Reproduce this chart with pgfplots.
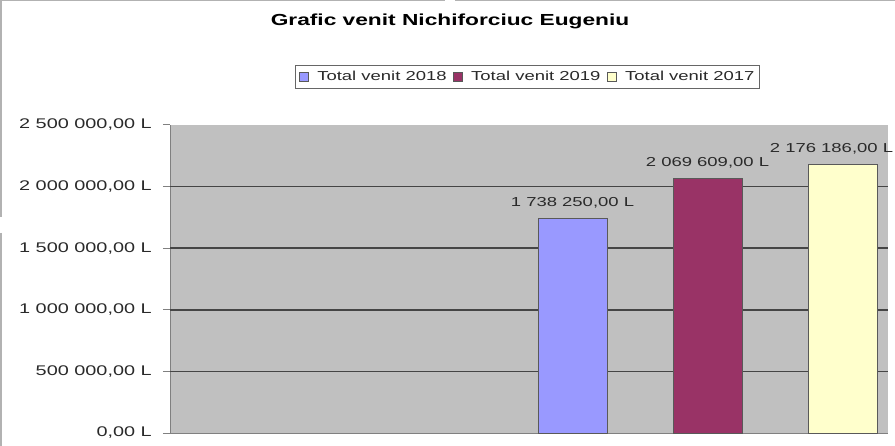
\documentclass[border=0pt]{standalone}
\usepackage{fontspec}
\setmainfont{Liberation Sans}[FakeStretch=1.42]
\usepackage{pgfplots}
\pgfplotsset{compat=1.18}
\definecolor{cblue}{HTML}{9999FF}
\definecolor{cmaroon}{HTML}{993366}
\definecolor{cyellow}{HTML}{FFFFCC}
\definecolor{plotbg}{HTML}{C0C0C0}
\definecolor{gridc}{HTML}{454545}
\definecolor{tickc}{HTML}{2A2A2A}
\begin{document}
\begin{tikzpicture}
\path[use as bounding box] (0,0) rectangle (895bp,446bp);
\fill[white] (0,0) rectangle (895bp,446bp);
\draw[gray!60, line width=1.5bp] (1bp,446bp) -- (1bp,229bp);
\draw[gray!60, line width=1.5bp] (1bp,213bp) -- (1bp,0bp);
\draw[gray!60, line width=1.5bp] (0bp,445.5bp) -- (445bp,445.5bp);
\draw[gray!60, line width=1.5bp] (455bp,445.5bp) -- (895bp,445.5bp);
\begin{axis}[
  at={(170bp,13bp)}, anchor=south west,
  scale only axis,
  width=718bp, height=308bp,
  xmin=170, xmax=888,
  ymin=0, ymax=2500000,
  scaled y ticks=false,
  clip=false,
  axis background/.style={fill=plotbg},
  axis x line*=bottom, axis y line*=left,
  axis line style={draw=gray, line width=1bp},
  xtick=\empty,
  ytick={0,500000,1000000,1500000,2000000,2500000},
  yticklabels={{0,00 L},{500 000,00 L},{1 000 000,00 L},{1 500 000,00 L},{2 000 000,00 L},{2 500 000,00 L}},
  yticklabel style={font=\fontsize{14bp}{16bp}\selectfont, text=tickc, inner sep=0pt, xshift=-11bp},
  major tick length=7bp,
  tick align=outside,
  tick style={draw=gray, line width=1bp},
  extra y ticks={500000,1000000,1500000,2000000},
  extra y tick labels={},
  extra y tick style={grid=major, major grid style={draw=gridc, line width=1.5bp}, major tick length=0pt},
  title={\bfseries Grafic venit Nichiforciuc Eugeniu},
  title style={at={(0.39,1.318)}, anchor=center, font=\fontsize{16bp}{18bp}\selectfont, inner sep=0pt},
  legend columns=3,
  legend style={at={(0.498,1.157)}, anchor=center, draw=gray!80!black, line width=1bp,
    font=\fontsize{13bp}{15bp}\selectfont, text=tickc,
    nodes={inner xsep=2bp},
    /tikz/every odd column/.append style={column sep=7bp},
    /tikz/every even column/.append style={column sep=4bp},
    inner xsep=3bp, inner ysep=4bp},
  legend image code/.code={\draw[#1, line width=0.6bp] (0bp,-4.5bp) rectangle (9bp,4.5bp);},
  point meta=explicit symbolic,
  nodes near coords,
  every node near coord/.append style={font=\fontsize{13bp}{15bp}\selectfont, text=tickc, anchor=base, inner sep=0pt, yshift=12bp},
]
\addplot[ybar, bar shift=0pt, bar width=69, fill=cblue, draw=black!65, line width=0.8bp]
  coordinates {(572.5,1738250) [1 738 250,00 L]};
\addlegendentry{Total venit 2018}
\addplot[ybar, bar shift=0pt, bar width=69, fill=cmaroon, draw=black!65, line width=0.8bp]
  coordinates {(707.5,2069609) [2 069 609,00 L]};
\addlegendentry{Total venit 2019}
\addplot[ybar, bar shift=0pt, bar width=69, fill=cyellow, draw=black!65, line width=0.8bp,
  every node near coord/.append style={xshift=-11bp}]
  coordinates {(842.5,2176186) [2 176 186,00 L]};
\addlegendentry{Total venit 2017}
\end{axis}
\end{tikzpicture}
\end{document}
